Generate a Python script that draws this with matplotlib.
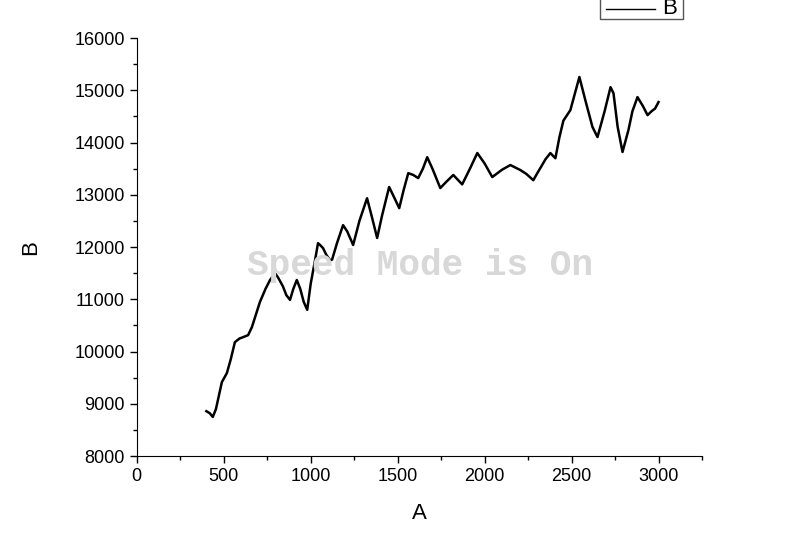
import matplotlib
matplotlib.use("Agg")
import matplotlib.pyplot as plt
from matplotlib.patches import Rectangle
from matplotlib.lines import Line2D
import numpy as np

# values
a_vals = [400, 420, 437, 455, 489, 518, 540, 564, 590, 610, 640, 662, 708, 740, 766,
          795, 812, 840, 860, 881, 900, 920, 940, 960, 980, 1000, 1025, 1042, 1054,
          1071, 1090, 1111, 1123, 1151, 1186, 1210, 1244, 1280, 1324, 1350, 1382,
          1410, 1451, 1480, 1509, 1535, 1561, 1590, 1618, 1645, 1670, 1700, 1745,
          1780, 1820, 1871, 1917, 1958, 2000, 2044, 2100, 2148, 2205, 2240, 2280,
          2303, 2320, 2350, 2378, 2407, 2430, 2453, 2493, 2520, 2545, 2580, 2620,
          2649, 2690, 2724, 2741, 2765, 2793, 2827, 2850, 2879, 2910, 2937, 2960,
          2980, 3000]
b_vals = [8860, 8820, 8750, 8900, 9415, 9590, 9850, 10180, 10250, 10275, 10315, 10470,
          10950, 11200, 11370, 11500, 11420, 11250, 11080, 10990, 11200, 11370, 11200,
          10950, 10800, 11300, 11750, 12075, 12040, 11980, 11850, 11750, 11760, 12075,
          12420, 12300, 12040, 12500, 12935, 12600, 12175, 12600, 13150, 12950, 12745,
          13100, 13415, 13380, 13320, 13500, 13720, 13500, 13130, 13250, 13380, 13200,
          13510, 13800, 13600, 13340, 13480, 13570, 13475, 13400, 13280, 13415, 13510,
          13680, 13800, 13700, 14100, 14420, 14620, 14950, 15255, 14800, 14300, 14105,
          14600, 15060, 14945, 14300, 13820, 14240, 14600, 14870, 14700, 14525, 14600,
          14650, 14775]

x_ticks = [0, 500, 1000, 1500, 2000, 2500, 3000]
y_ticks = [8000, 9000, 10000, 11000, 12000, 13000, 14000, 15000, 16000]

plt.rcParams['font.family'] = ['Liberation Sans', 'DejaVu Sans']

W, H = 800, 536
fig = plt.figure(figsize=(8, 5.36), dpi=100)
ax = fig.add_axes([0.171, 0.149, 0.7065, 0.78])

ax.plot(a_vals, b_vals, color='black', lw=1.8)

ax.set_xlim(0, 3250)
ax.set_ylim(8000, 16000)
ax.set_xticks(x_ticks)
ax.set_yticks(y_ticks)
ax.set_xticks(np.arange(250, 3251, 500), minor=True)
ax.set_yticks(np.arange(8500, 16000, 1000), minor=True)
ax.tick_params(which='major', direction='out', length=5, width=1, labelsize=13)
ax.tick_params(which='minor', direction='out', length=3, width=1)
for s in ['top', 'right']:
    ax.spines[s].set_visible(False)
ax.set_xlabel('A', fontsize=16, labelpad=13)
ax.set_ylabel('B', fontsize=16, labelpad=24)

fig.text(0.525, 0.505, 'Speed Mode is On', family='Liberation Mono', weight='bold',
         fontsize=26, color='#d8d8d8', ha='center', va='center', zorder=0)

# legend box, cut off by the top edge as in the reference
fig.patches.append(Rectangle((600 / W, 1 - 19 / H), 83 / W, 30 / H,
                             transform=fig.transFigure, facecolor='white',
                             edgecolor='#555555', lw=1))
fig.lines.append(Line2D([606 / W, 655 / W], [1 - 9 / H, 1 - 9 / H],
                        transform=fig.transFigure, color='black', lw=1))
fig.text(662 / W, 1 - 9 / H, 'B', fontsize=16, ha='left', va='center')

fig.savefig('out.png', dpi=100)
